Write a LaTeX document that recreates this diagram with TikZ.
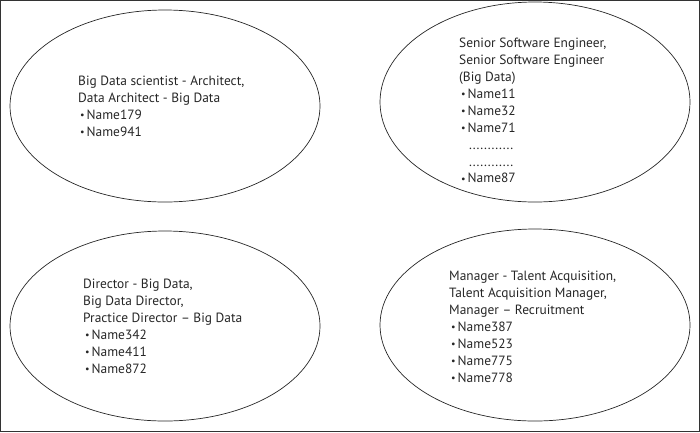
\documentclass[tikz,border=0pt]{standalone}
\usepackage{fontspec}
\setmainfont{PT Sans}
\usetikzlibrary{shapes.geometric}
\newcommand\bul{\hspace*{2pt}\makebox[6.5pt][l]{\raisebox{0.1ex}{\fontsize{10}{10}\selectfont\textbullet}}}
\begin{document}
\begin{tikzpicture}[x=1pt,y=-1pt,
  frame/.style={draw=black!80,line width=1.2pt},
  oval/.style={draw=black!85,line width=0.7pt,ellipse,inner sep=0pt,minimum width=310pt},
  txt/.style={anchor=north west,inner sep=0pt,align=left,font=\fontsize{13.4}{16.9}\selectfont,text=black!85}]
\useasboundingbox (0,0) rectangle (700,432);
\draw[frame] (0.6,0.6) rectangle (699.4,431.4);
\node[oval,minimum height=192pt] (e1) at (165,106) {};
\node[oval,minimum height=200pt] (e2) at (535,102) {};
\node[oval,minimum height=190pt] (e3) at (165,326) {};
\node[oval,minimum height=192pt] (e4) at (535,325) {};
\node[txt] (t1) at (78,76) {Big Data scientist - Architect,\\Data Architect - Big Data\\\bul Name179\\\bul Name941};
\node[txt] (t2) at (459,38) {Senior Software Engineer,\\Senior Software Engineer\\(Big Data)\\\bul Name11\\\bul Name32\\\bul Name71\\\hspace*{10pt}............\\\hspace*{10pt}............\\\bul Name87};
\node[txt] (t3) at (83,279) {Director - Big Data,\\Big Data Director,\\Practice Director -- Big Data\\\bul Name342\\\bul Name411\\\bul Name872};
\node[txt] (t4) at (449,271) {Manager - Talent Acquisition,\\Talent Acquisition Manager,\\Manager -- Recruitment\\\bul Name387\\\bul Name523\\\bul Name775\\\bul Name778};
\end{tikzpicture}
\end{document}
